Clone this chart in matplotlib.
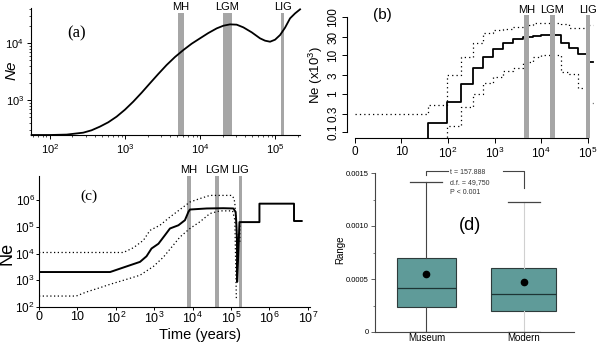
import matplotlib
matplotlib.use("Agg")
import numpy as np
import matplotlib.pyplot as plt
from matplotlib.ticker import FixedLocator, FixedFormatter, NullLocator, LogLocator, MultipleLocator

plt.rcParams['font.family'] = ['Liberation Sans', 'DejaVu Sans']
plt.rcParams['mathtext.fontset'] = 'custom'
plt.rcParams['mathtext.rm'] = 'Liberation Sans'
plt.rcParams['mathtext.it'] = 'Liberation Sans:italic'

W, H = 600, 346
GREY = '#a6a6a6'
period_names = ['MH', 'LGM', 'LIG']

# (a) smooth Ne trajectory (years, Ne)
time_a = [57, 100, 167, 278, 359, 464, 599, 774, 1000, 1290, 1670, 2150, 2780,
          3590, 4640, 6000, 7740, 10000, 12900, 16700, 20500, 25100, 30800, 37800,
          48900, 63100, 73600, 85800, 100000, 116600, 135900, 158500, 184800, 215400]
ne_a = [243, 243, 247, 267, 294, 341, 406, 510, 676, 935, 1345, 1960, 2860,
        4110, 5680, 7530, 9720, 12080, 14960, 18070, 20130, 21240, 20990, 18830,
        15390, 12080, 10990, 10540, 11430, 13800, 18580, 27100, 33110, 38990]
periods_a = [(5100, 6100), (20200, 26700), (120000, 132000)]

# (b) stairway plot, Ne in thousands per time interval
edges_b = [1, 38, 93, 186, 339, 562, 912, 1510, 2450, 4170, 6760, 10200, 18200,
           26300, 40700, 63100, 95500, 132000]
med_b = [0.02, 0.17, 0.62, 1.8, 4.6, 8.9, 14.7, 20.8, 27, 29.5, 32, 34, 33,
         21, 15.5, 11, 6.9]
upper_b = [0.3, 0.5, 3.1, 8.9, 21, 38, 45, 49, 54, 62, 69, 69, 69, 66, 52, 52, 63]
lower_b = [0.02, 0.02, 0.14, 0.44, 1.0, 1.9, 2.8, 3.9, 4.6, 6.9, 8.9, 10, 10,
           3.7, 3.2, 1.4, 0.56]
periods_b = [(4270, 5500), (15500, 20000), (93000, 112000)]

# (c) skyline Ne with confidence band
time_c = [1, 71, 158, 427, 631, 851, 1290, 1905, 2570, 4270, 6310, 7760, 8510,
          23400, 63100, 115000, 132000, 138000, 143000, 144500, 166000, 550000,
          550000, 4370000, 4370000, 6920000]
med_c = [2040, 2040, 3020, 4900, 7940, 15500, 23400, 49000, 87100, 115000, 178000,
         363000, 447000, 490000, 501000, 490000, 363000, 126000, 31600, 871,
         151000, 151000, 741000, 741000, 166000, 166000]
time_up_c = [1, 158, 288, 525, 776, 1410, 2570, 4680, 8510, 15500, 28200, 105000,
             120000, 126000, 138000, 144500, 170000, 170000]
up_c = [11000, 11000, 16600, 31600, 74100, 115000, 234000, 447000, 851000, 1150000,
        1510000, 1510000, 1150000, 741000, 100000, 26900, 26900, 151000]
time_lo_c = [1, 9.3, 17, 38, 71, 158, 427, 955, 1740, 2880, 4680, 8510, 15500,
             28200, 51300, 110000, 126000, 138000]
lo_c = [257, 257, 363, 525, 708, 1000, 1550, 3310, 7410, 17800, 41700, 87100,
        155000, 316000, 398000, 398000, 178000, 178]
periods_c = [(7100, 8900), (38000, 50000), (158000, 195000)]

# (d) range per sample group
groups = ['Museum', 'Modern']
q1_d = [0.000233, 0.000195]
med_d = [0.000412, 0.000356]
q3_d = [0.000701, 0.000607]
lo_d = [0.0, 0.0]
hi_d = [0.001418, 0.001224]
mean_d = [0.000547, 0.000469]
stat_lines = ['t = 157.888', 'd.f. = 49,750', 'P < 0.001']


def box(l, t, r, b):
    return [l / W, 1 - b / H, (r - l) / W, (b - t) / H]


def sup(e):
    return r'$\mathregular{10^{%d}}$' % e


def periods(ax, spans, top, label_y, fs, z=1):
    tr = ax.get_xaxis_transform()
    for (lo, hi), name in zip(spans, period_names):
        ax.axvspan(lo, hi, ymax=top, color=GREY, lw=0, zorder=z)
        ax.text(np.sqrt(lo * hi), label_y, name, transform=tr, ha='center',
                va='center', fontsize=fs)


fig = plt.figure(figsize=(6, 3.46), dpi=100)

# ---- (a)
ax = fig.add_axes(box(31, 7.5, 300, 135))
ax.set_xscale('log')
ax.set_yscale('log')
ax.set_xlim(56, 2.15e5)
ax.set_ylim(243, 4.2e4)
periods(ax, periods_a, 0.957, 1.006, 8)
ax.plot(time_a, ne_a, color='black', lw=1.3, zorder=3, clip_on=False)
for s in ('top', 'right'):
    ax.spines[s].set_visible(False)
ax.xaxis.set_major_locator(FixedLocator([1e2, 1e3, 1e4, 1e5]))
ax.xaxis.set_major_formatter(FixedFormatter([sup(e) for e in (2, 3, 4, 5)]))
ax.yaxis.set_major_locator(FixedLocator([1e3, 1e4]))
ax.yaxis.set_major_formatter(FixedFormatter([sup(3), sup(4)]))
ax.xaxis.set_minor_locator(LogLocator(subs=range(2, 10)))
ax.yaxis.set_minor_locator(LogLocator(subs=range(2, 10)))
ax.yaxis.set_minor_formatter(plt.NullFormatter())
ax.xaxis.set_minor_formatter(plt.NullFormatter())
ax.tick_params(which='major', length=3, width=0.7, labelsize=8, pad=2)
ax.tick_params(which='minor', length=1.5, width=0.5)
ax.set_ylabel('Ne', style='italic', fontsize=11)
ax.yaxis.set_label_coords(-0.048, 0.51)
ax.text(0.171, 0.80, '(a)', transform=ax.transAxes, fontsize=12,
        family='Liberation Serif', ha='center', va='center')

# ---- (b)
bx = fig.add_axes(box(347, 8, 597, 138))
bx.set_xscale('log')
bx.set_yscale('log')
bx.set_xlim(0.673, 1.6e5)
bx.set_ylim(0.0697, 172)
bx.step(edges_b, med_b + [med_b[-1]], where='post', color='black', lw=1.3, zorder=2)
bx.step(edges_b, upper_b + [upper_b[-1]], where='post', color='black', lw=0.9,
        ls=(0, (1, 2.5)), zorder=2)
bx.step(edges_b, lower_b + [lower_b[-1]], where='post', color='black', lw=0.9,
        ls=(0, (1, 2.5)), zorder=2)
periods(bx, periods_b, 0.946, 0.985, 8, z=3)
for s in ('top', 'right'):
    bx.spines[s].set_visible(False)
bx.spines['left'].set_bounds(0.1, 100)
bx.spines['bottom'].set_bounds(1, 1e5)
bx.xaxis.set_major_locator(FixedLocator([1, 10, 1e2, 1e3, 1e4, 1e5]))
bx.xaxis.set_major_formatter(FixedFormatter(['0', '10'] + [sup(e) for e in (2, 3, 4, 5)]))
bx.yaxis.set_major_locator(FixedLocator([0.1, 0.3, 1, 3, 10, 30, 100]))
bx.yaxis.set_major_formatter(FixedFormatter(['0.1', '0.3', '1', '3', '10', '30', '100']))
bx.xaxis.set_minor_locator(NullLocator())
bx.yaxis.set_minor_locator(NullLocator())
bx.tick_params(length=3.5, width=0.7, labelsize=8.5, pad=2)
for lab in bx.get_yticklabels():
    lab.set_rotation(90)
    lab.set_va('center')
bx.set_ylabel(r'Ne (x10$^{3}$)', fontsize=9.5)
bx.yaxis.set_label_coords(-0.088, 0.485)
bx.text(0.14, 0.946, '(b)', transform=bx.transAxes, fontsize=11,
        ha='center', va='center')

# ---- (c)
cx = fig.add_axes(box(39, 176, 310, 307))
cx.set_xscale('log')
cx.set_yscale('log')
cx.set_xlim(1, 1.14e7)
cx.set_ylim(100, 8.05e6)
periods(cx, periods_c, 1.0, 1.046, 8)
cx.plot(time_c, med_c, color='black', lw=1.4, zorder=3)
cx.plot(time_up_c, up_c, color='black', lw=0.9, ls=(0, (1, 2)), zorder=3)
cx.plot(time_lo_c, lo_c, color='black', lw=0.9, ls=(0, (1, 2)), zorder=3)
for s in ('top', 'right'):
    cx.spines[s].set_visible(False)
cx.xaxis.set_major_locator(FixedLocator([1, 10] + [10.0 ** e for e in range(2, 8)]))
cx.xaxis.set_major_formatter(FixedFormatter(['0', '10'] + [sup(e) for e in range(2, 8)]))
cx.yaxis.set_major_locator(FixedLocator([10.0 ** e for e in range(2, 7)]))
cx.yaxis.set_major_formatter(FixedFormatter([sup(e) for e in range(2, 7)]))
cx.xaxis.set_minor_locator(NullLocator())
cx.yaxis.set_minor_locator(NullLocator())
cx.tick_params(length=2, width=0.7, labelsize=8.5, pad=1)
cx.tick_params(axis='x', labelsize=9)
cx.set_ylabel('Ne', fontsize=13)
cx.yaxis.set_label_coords(-0.085, 0.41)
cx.set_xlabel('Time (years)', fontsize=10.5)
cx.xaxis.set_label_coords(0.594, -0.16)
cx.text(0.185, 0.847, '(c)', transform=cx.transAxes, fontsize=11,
        family='Liberation Serif', ha='center', va='center')

# ---- (d)
dx = fig.add_axes(box(375, 173, 574, 332))
stats = [dict(label=g, q1=a, med=m, q3=b, whislo=lo, whishi=hi, mean=mu, fliers=[])
         for g, a, m, b, lo, hi, mu in zip(groups, q1_d, med_d, q3_d, lo_d, hi_d, mean_d)]
res = dx.bxp(stats, positions=[0, 1], widths=[0.61, 0.66], capwidths=0.33,
             patch_artist=True, showfliers=False, showmeans=True,
             boxprops=dict(facecolor='#5f9b99', edgecolor='#2e3b3b', lw=0.8),
             medianprops=dict(color='#1d3535', lw=0.9),
             whiskerprops=dict(color='#444444', lw=0.8),
             capprops=dict(color='#444444', lw=0.9),
             meanprops=dict(marker='o', markerfacecolor='black',
                            markeredgecolor='black', markersize=4.5))
for w in res['whiskers'][2:]:
    w.set_color('#d0d0d0')
dx.set_xlim(-0.53, 1.52)
dx.set_ylim(0, 0.0015)
for s in ('top', 'right'):
    dx.spines[s].set_visible(False)
dx.spines['left'].set_color('#444444')
dx.spines['bottom'].set_color('#444444')
dx.yaxis.set_major_locator(FixedLocator([0, 0.0005, 0.0010, 0.0015]))
dx.yaxis.set_major_formatter(FixedFormatter(['0', '0.0005', '0.0010', '0.0015']))
dx.yaxis.set_minor_locator(MultipleLocator(0.00025))
dx.set_xticks([0, 1])
dx.set_xticklabels(groups)
dx.tick_params(axis='y', which='major', length=3, width=0.6, labelsize=5.5,
               pad=1.5, color='#444444')
dx.tick_params(axis='y', which='minor', length=1.5, width=0.5, color='#444444')
dx.tick_params(axis='x', length=0, labelsize=7, pad=1)
dx.set_ylabel('Range', fontsize=7)
dx.yaxis.set_label_coords(-0.15, 0.516)

# significance bracket between the two groups
ytop = 0.001515
dx.plot([0, 0, 0.225], [0.00148, ytop, ytop], color='#444444', lw=0.8, clip_on=False)
dx.plot([0.79, 1.0, 1.0], [ytop, ytop, 0.001356], color='#444444', lw=0.8, clip_on=False)
for txt, yv in zip(stat_lines, [0.0015, 0.001412, 0.001318]):
    dx.text(0.245, yv, txt, fontsize=5, color='#333333', ha='left', va='center')
dx.text(0.45, 0.001, '(d)', fontsize=13, ha='center', va='center')

fig.savefig('out.png', dpi=100, facecolor='white')
